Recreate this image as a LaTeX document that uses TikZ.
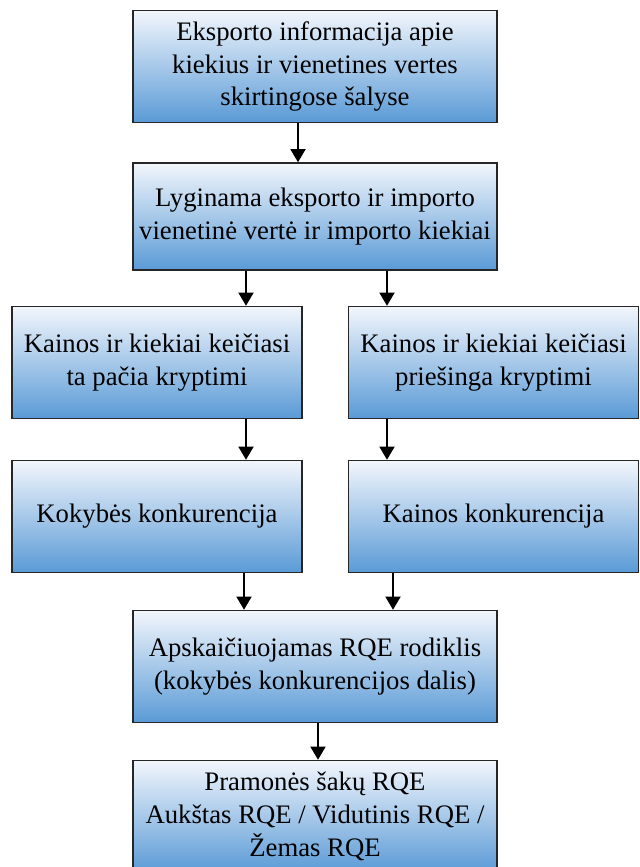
\documentclass[tikz,border=0pt]{standalone}
\usepackage{fontspec}
\setmainfont{Liberation Serif}
\usetikzlibrary{arrows.meta}

\definecolor{boxtop}{HTML}{F2F6FC}
\definecolor{boxbottom}{HTML}{5A9AD6}

\tikzstyle{block} = [rectangle, minimum width=9.1cm, minimum height=2.8cm, align=center, draw=black!85, line width=1.1pt, top color=boxtop, bottom color=boxbottom, font=\fontsize{19}{23.4}\selectfont, inner sep=2pt]
\tikzstyle{halfblock} = [block, minimum width=7.25cm]
\tikzstyle{arrow} = [line width=1pt, -{Triangle[width=0.38cm,length=0.33cm]}]

\begin{document}
\begin{tikzpicture}[node distance = 3.75cm, auto]
	\useasboundingbox (0,0) rectangle (16,-21.675);
	% Boxes
	\node [block] (Eksportas) at (7.875,-1.6625) {Eksporto informacija apie\\kiekius ir vienetines vertes\\skirtingose šalyse};
	\node [block, below of=Eksportas, minimum height=2.675cm] (Lyginimas) {Lyginama eksporto ir importo\\vienetinė vertė ir importo kiekiai};
	\node [halfblock, below of=Lyginimas, xshift=-3.95cm, yshift=0.1cm] (TaPacia) {Kainos ir kiekiai keičiasi\\ta pačia kryptimi};
	\node [halfblock, right of=TaPacia, xshift=4.6625cm] (Priesinga) {Kainos ir kiekiai keičiasi\\priešinga kryptimi};
	\node [halfblock, below of=TaPacia, yshift=-0.1cm] (Kokybe) {Kokybės konkurencija};
	\node [halfblock, right of=Kokybe, xshift=4.6625cm] (Kaina) {Kainos konkurencija};
	\node [block, below of=Kokybe, xshift=3.95cm] (RQE) {Apskaičiuojamas RQE rodiklis\\(kokybės konkurencijos dalis)};
	\node [block, below of=RQE] (Sakos) {Pramonės šakų RQE\\Aukštas RQE / Vidutinis RQE /\\Žemas RQE};
	% Arrows
	\draw [arrow] ([xshift=-0.425cm]Eksportas.south) -- ([xshift=-0.425cm]Lyginimas.north);
	\draw [arrow] ([xshift=-1.725cm]Lyginimas.south) -- ([xshift=-1.725cm]Lyginimas.south |- TaPacia.north);
	\draw [arrow] ([xshift=1.8cm]Lyginimas.south) -- ([xshift=1.8cm]Lyginimas.south |- Priesinga.north);
	\draw [arrow] ([xshift=2.225cm]TaPacia.south) -- ([xshift=2.225cm]Kokybe.north);
	\draw [arrow] ([xshift=-2.6625cm]Priesinga.south) -- ([xshift=-2.6625cm]Kaina.north);
	\draw [arrow] ([xshift=2.175cm]Kokybe.south) -- ([xshift=2.175cm]Kokybe.south |- RQE.north);
	\draw [arrow] ([xshift=-2.5125cm]Kaina.south) -- ([xshift=-2.5125cm]Kaina.south |- RQE.north);
	\draw [arrow] ([xshift=0.075cm]RQE.south) -- ([xshift=0.075cm]Sakos.north);
\end{tikzpicture}
\end{document}
